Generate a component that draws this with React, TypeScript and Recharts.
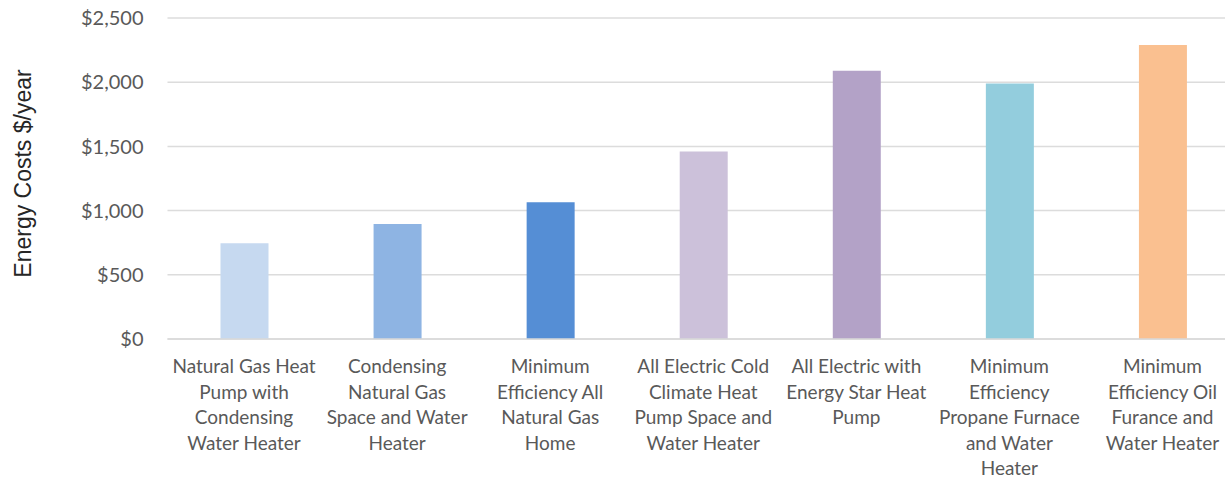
import React from "react";
import { BarChart, Bar, XAxis, YAxis, CartesianGrid, Cell } from "recharts";

const tickLines: string[][] = [
  ["Natural Gas Heat", "Pump with", "Condensing", "Water Heater"],
  ["Condensing", "Natural Gas", "Space and Water", "Heater"],
  ["Minimum", "Efficiency All", "Natural Gas", "Home"],
  ["All Electric Cold", "Climate Heat", "Pump Space and", "Water Heater"],
  ["All Electric with", "Energy Star Heat", "Pump"],
  ["Minimum", "Efficiency", "Propane Furnace", "and Water", "Heater"],
  ["Minimum", "Efficiency Oil", "Furance and", "Water Heater"],
];
const categories: string[] = tickLines.map((l) => l.join(" "));
const costs: number[] = [745, 895, 1065, 1460, 2090, 1990, 2290];
const barColors: string[] = ["#c6d9f0", "#8eb4e3", "#558ed5", "#ccc1da", "#b3a2c7", "#93cddd", "#fac090"];
const yTicks: number[] = [0, 500, 1000, 1500, 2000, 2500];

const data = categories.map((name, i) => ({ name, cost: costs[i] }));

const fmt = (v: number) => "$" + String(v).replace(/\B(?=(\d{3})+(?!\d))/g, ",");

const FONT = "Lato, 'Open Sans', sans-serif";

const XTick = (props: any) => {
  const { x, y, index } = props;
  const lines = tickLines[index] || [];
  return (
    <text x={x} y={y + 34} textAnchor="middle" fill="#595959" fontFamily={FONT} fontSize={19}>
      {lines.map((l, i) => (
        <tspan key={i} x={x} dy={i === 0 ? 0 : 25.6}>
          {l}
        </tspan>
      ))}
    </text>
  );
};

const YTitle = (props: any) => {
  const vb = props.viewBox || {};
  const cx = 23;
  const cy = (vb.y || 0) + (vb.height || 0) / 2 - 5;
  return (
    <text
      x={cx}
      y={cy}
      transform={`rotate(-90 ${cx} ${cy})`}
      textAnchor="middle"
      dominantBaseline="central"
      fill="#262626"
      fontFamily="'Liberation Sans', Arial, sans-serif"
      fontSize={23}
    >
      Energy Costs $/year
    </text>
  );
};

export default function App() {
  return (
    <div style={{ position: "absolute", left: 0, top: 0, width: 1225, height: 480, overflow: "hidden", background: "#fff" }}>
      <BarChart width={1239} height={480} data={data} margin={{ top: 18, right: 0, bottom: 0, left: 0 }}>
        <CartesianGrid vertical={false} stroke="#dcdcdc" strokeWidth={1.5} />
        <XAxis
          dataKey="name"
          interval={0}
          height={141}
          tickLine={false}
          tickSize={0}
          tickMargin={0}
          axisLine={{ stroke: "#d9d9d9", strokeWidth: 1.5 }}
          tick={<XTick />}
        />
        <YAxis
          width={167.5}
          domain={[0, 2500]}
          ticks={yTicks}
          tickFormatter={fmt}
          axisLine={false}
          tickLine={false}
          tickSize={0}
          tickMargin={24}
          tick={{ fill: "#595959", fontFamily: FONT, fontSize: 20 }}
          label={<YTitle />}
        />
        <Bar dataKey="cost" barSize={48} isAnimationActive={false}>
          {data.map((d, i) => (
            <Cell key={i} fill={barColors[i]} />
          ))}
        </Bar>
      </BarChart>
    </div>
  );
}
